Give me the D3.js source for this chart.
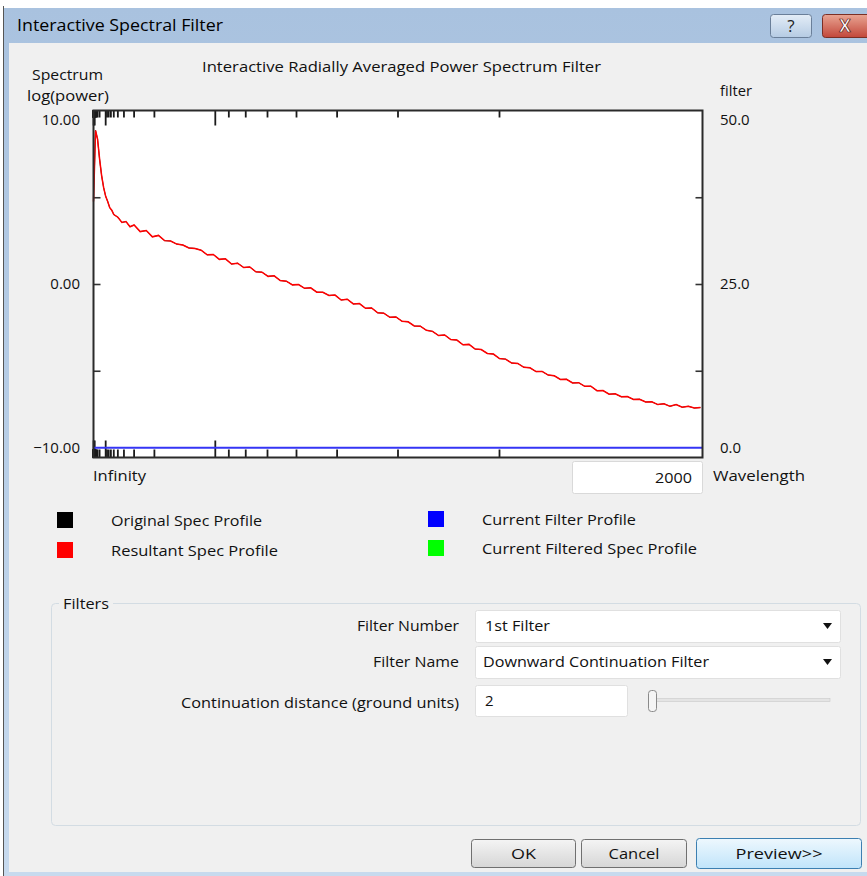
<!DOCTYPE html>
<html><head><meta charset="utf-8">
<script src="https://cdn.jsdelivr.net/npm/d3@7"></script>
<style>html,body{margin:0;padding:0;background:#fff;} svg{display:block;font-family:"Open Sans","Noto Sans",sans-serif;}</style>
</head><body><svg id="c" width="867" height="876"></svg>
<script>
// ---------------- DATA ----------------
const nyquistBin = 300;          // bin index at the right edge of the plot
const minWavelength = 2000;      // wavelength at the right edge
const bins = [0,1,2,3,4,5,6,7,8,9,10,12,14,16,18,20,23,26,29,32,35,38,41,44,47,50,53,56,59,62,65,68,71,74,77,80,83,86,89,92,95,98,101,104,107,110,113,116,119,122,125,128,131,134,137,140,143,146,149,152,155,158,161,164,167,170,173,176,179,182,185,188,191,194,197,200,203,206,209,212,215,218,221,224,227,230,233,236,239,242,245,248,251,254,257,260,263,266,269,272,275,278,281,284,287,290,293,296,299];
const logPower = [4.75,8.85,8.35,7.2,6.25,5.55,5.05,4.75,4.4,4.25,4.0,3.85,3.55,3.6,3.3,3.4,3.02,3.08,2.72,2.8,2.5,2.48,2.3,2.25,2.08,2.05,1.95,1.68,1.7,1.42,1.45,1.15,1.2,0.95,0.98,0.7,0.68,0.44,0.47,0.2,0.16,-0.05,-0.03,-0.25,-0.22,-0.47,-0.48,-0.66,-0.64,-0.92,-0.88,-1.15,-1.13,-1.4,-1.38,-1.66,-1.68,-1.92,-1.9,-2.15,-2.18,-2.42,-2.43,-2.67,-2.73,-2.97,-2.94,-3.2,-3.23,-3.5,-3.48,-3.75,-3.78,-4.0,-4.04,-4.3,-4.33,-4.56,-4.58,-4.8,-4.83,-5.05,-5.04,-5.25,-5.29,-5.5,-5.49,-5.7,-5.69,-5.9,-5.89,-6.15,-6.14,-6.35,-6.33,-6.5,-6.49,-6.65,-6.64,-6.8,-6.79,-6.95,-6.9,-7.05,-6.95,-7.1,-7.05,-7.15,-7.12];
const filterBins = [0,100,200,300];
const filterValues = [1.4,1.4,1.4,1.4];
const tickDecades = [1000,10000,100000,1000000,10000000];
const tickMantissas = [1,2,3,4,5,6,7,8,9];
const leftTickValues = [-5,0,5];
const leftLabels = [10,0,-10];
const rightLabels = [50,25,0];
const legendItems = [
  {name:"Original Spec Profile", color:"#000000"},
  {name:"Resultant Spec Profile", color:"#ff0000"},
  {name:"Current Filter Profile", color:"#0000ff"},
  {name:"Current Filtered Spec Profile", color:"#00ff00"}
];

// ---------------- LAYOUT ----------------
const svg = d3.select("#c");
const P = {left:93.5, right:702.5, top:110.5, bottom:457.5};
const x = d3.scaleLinear().domain([0, 1/minWavelength]).range([P.left, P.right]);
const binToK = b => b / nyquistBin / minWavelength;
const y = d3.scaleLinear().domain([-10,10]).range([P.bottom, P.top]);
const yF = d3.scaleLinear().domain([0,50]).range([P.bottom, P.top]);

function txt(g, s, tx, ty, o) {
  o = o || {};
  const t = g.append("text").attr("x", tx).attr("y", ty)
    .attr("font-size", o.size || 15).attr("fill", o.fill || "#111")
    .attr("text-anchor", o.anchor || "start").attr("dy", "0.35em").text(s);
  if (o.w) t.attr("textLength", o.w).attr("lengthAdjust", "spacingAndGlyphs");
  if (o.weight) t.attr("font-weight", o.weight);
  return t;
}

const defs = svg.append("defs");
function grad(id, c1, c2) {
  const g = defs.append("linearGradient").attr("id", id).attr("x1",0).attr("y1",0).attr("x2",0).attr("y2",1);
  g.append("stop").attr("offset","0%").attr("stop-color",c1);
  g.append("stop").attr("offset","100%").attr("stop-color",c2);
}
grad("gTitle", "#a9c2df", "#c7daee");
grad("gHelp", "#e4edf7", "#b5cbe3");
grad("gClose", "#e9a593", "#c2473a");
grad("gBtn", "#f4f4f4", "#d6d6d6");
grad("gPrev", "#eef8fe", "#c0e4fa");

// window chrome
svg.append("rect").attr("x",0).attr("y",0).attr("width",867).attr("height",876).attr("fill","#ffffff");
svg.append("rect").attr("x",3).attr("y",8).attr("width",864).attr("height",868).attr("fill","url(#gTitle)");
svg.append("rect").attr("x",9).attr("y",43).attr("width",858).attr("height",829).attr("fill","#f0f0f0");
svg.append("line").attr("x1",3.5).attr("x2",3.5).attr("y1",6).attr("y2",876).attr("stroke","#555").attr("stroke-width",1);
txt(svg, "Interactive Spectral Filter", 17, 25, {size:16, w:206, fill:"#000"});
svg.append("rect").attr("x",770.5).attr("y",14.5).attr("width",41).attr("height",23).attr("rx",3)
  .attr("fill","url(#gHelp)").attr("stroke","#6a7f99");
txt(svg, "?", 791, 26, {size:17, anchor:"middle", fill:"#222"});
svg.append("rect").attr("x",822.5).attr("y",14.5).attr("width",48).attr("height",23).attr("rx",3)
  .attr("fill","url(#gClose)").attr("stroke","#7b2f25");
txt(svg, "X", 845, 26, {size:17, anchor:"middle", fill:"#fff", weight:"bold"}).attr("stroke","#5a1a12").attr("stroke-width",0.7);

// ---------------- CHART ----------------
txt(svg, "Interactive Radially Averaged Power Spectrum Filter", 401.5, 67, {anchor:"middle", w:399});
txt(svg, "Spectrum", 67.5, 75, {anchor:"middle", w:71});
txt(svg, "log(power)", 68, 96, {anchor:"middle", w:82});
txt(svg, "filter", 720, 91, {w:32});

svg.append("rect").attr("x",P.left).attr("y",P.top).attr("width",P.right-P.left).attr("height",P.bottom-P.top).attr("fill","#fff");

// wavelength ticks (top and bottom)
const wl = [];
tickDecades.forEach(d => tickMantissas.forEach(m => { const v = m*d; if (v > minWavelength) wl.push({v, major: m===1}); }));
const tg = svg.append("g").attr("stroke","#1a1a1a").attr("stroke-width",1.8);
tg.selectAll("line.t").data(wl).join("line").attr("class","t")
  .attr("x1", d => x(1/d.v)).attr("x2", d => x(1/d.v))
  .attr("y1", P.top).attr("y2", d => P.top + (d.major ? 15 : 7));
tg.selectAll("line.b").data(wl).join("line").attr("class","b")
  .attr("x1", d => x(1/d.v)).attr("x2", d => x(1/d.v))
  .attr("y1", P.bottom).attr("y2", d => P.bottom - (d.major ? 17 : 8));

// y ticks via d3 axes
svg.append("g").attr("transform",`translate(${P.left},0)`)
  .call(d3.axisRight(y).tickValues(leftTickValues).tickSize(7).tickFormat(""))
  .call(g => g.select(".domain").remove())
  .call(g => g.selectAll("line").attr("stroke","#333").attr("stroke-width",1.6));
svg.append("g").attr("transform",`translate(${P.right},0)`)
  .call(d3.axisLeft(y).tickValues(leftTickValues).tickSize(7).tickFormat(""))
  .call(g => g.select(".domain").remove())
  .call(g => g.selectAll("line").attr("stroke","#333").attr("stroke-width",1.6));

// labels
leftLabels.forEach(v => {
  const yy = v === 10 ? y(v) + 9 : (v === -10 ? y(v) - 10 : y(v));
  txt(svg, d3.format(".2f")(v), 80, yy, {anchor:"end"});
});
rightLabels.forEach(v => {
  const yy = v === 50 ? yF(v) + 9 : (v === 0 ? yF(v) - 10 : yF(v));
  txt(svg, d3.format(".1f")(v), 720, yy, {});
});

// series
const line = d3.line().x(d => x(binToK(d[0]))).y(d => y(d[1]));
const spec = bins.map((b,i) => [b, logPower[i]]);
svg.append("path").datum(spec).attr("d", line).attr("fill","none").attr("stroke","#000").attr("stroke-width",0.8);
svg.append("path").datum(spec).attr("d", line).attr("fill","none").attr("stroke","#ff0000").attr("stroke-width",1.5);
const fLine = d3.line().x(d => x(binToK(d[0]))).y(d => yF(d[1]));
svg.append("path").datum(filterBins.map((b,i)=>[b, filterValues[i]])).attr("d", fLine)
  .attr("fill","none").attr("stroke","#3535f5").attr("stroke-width",2);

// frame
svg.append("rect").attr("x",P.left).attr("y",P.top).attr("width",P.right-P.left).attr("height",P.bottom-P.top)
  .attr("fill","none").attr("stroke","#2a2a2a").attr("stroke-width",2);

txt(svg, "Infinity", 93, 476, {w:53});
svg.append("rect").attr("x",572.5).attr("y",461.5).attr("width",130).attr("height",32).attr("rx",2)
  .attr("fill","#fff").attr("stroke","#d9d9d9");
txt(svg, String(minWavelength), 692, 478, {anchor:"end", w:37});
txt(svg, "Wavelength", 713, 476, {w:92});

// legend
const legPos = [[57,520],[57,550],[428,519],[428,548]];
const legW = [151,167,154,215];
legendItems.forEach((d,i) => {
  const [lx, ly] = legPos[i];
  svg.append("rect").attr("x",lx).attr("y",ly-8).attr("width",16).attr("height",16).attr("fill",d.color);
  txt(svg, d.name, i < 2 ? 111 : 482, ly+1, {w:legW[i]});
});

// ---------------- FILTERS PANEL ----------------
svg.append("rect").attr("x",51.5).attr("y",603.5).attr("width",809).attr("height",222).attr("rx",4)
  .attr("fill","none").attr("stroke","#d3dce3");
svg.append("rect").attr("x",59).attr("y",596).attr("width",54).attr("height",16).attr("fill","#f0f0f0");
txt(svg, "Filters", 63, 604, {w:46});

txt(svg, "Filter Number", 459, 626, {anchor:"end", w:102});
txt(svg, "Filter Name", 459, 662, {anchor:"end", w:86});
txt(svg, "Continuation distance (ground units)", 459, 703, {anchor:"end", w:278});

[[610,"1st Filter",65],[646,"Downward Continuation Filter",226]].forEach(([ty, s, w]) => {
  svg.append("rect").attr("x",475.5).attr("y",ty+0.5).attr("width",365).attr("height",32).attr("rx",2)
    .attr("fill","#fff").attr("stroke","#e0e0e0");
  txt(svg, s, s === "1st Filter" ? 485 : 483, ty+16, {w:w});
  svg.append("path").attr("d", `M${823},${ty+13} l9,0 l-4.5,6 z`).attr("fill","#111");
});
svg.append("rect").attr("x",475.5).attr("y",685.5).attr("width",152).attr("height",31).attr("rx",2)
  .attr("fill","#fff").attr("stroke","#e0e0e0");
txt(svg, "2", 485, 701, {});
svg.append("rect").attr("x",650).attr("y",698.5).attr("width",180).attr("height",3).attr("fill","#e4e4e4").attr("stroke","#c8c8c8").attr("stroke-width",0.6);
svg.append("rect").attr("x",648.5).attr("y",690.5).attr("width",8).attr("height",21).attr("rx",3)
  .attr("fill","#f5f5f5").attr("stroke","#8a8a8a");

// buttons
[[471.5,839.5,104,28,"OK",25,"gBtn","#707070"],[581.5,839.5,105,28,"Cancel",51,"gBtn","#707070"],[696.5,838.5,165,30,"Preview>>",87,"gPrev","#3c7fb1"]]
.forEach(([bx,by,bw,bh,s,w,f,st]) => {
  svg.append("rect").attr("x",bx).attr("y",by).attr("width",bw).attr("height",bh).attr("rx",3)
    .attr("fill",`url(#${f})`).attr("stroke",st);
  txt(svg, s, bx+bw/2, by+bh/2, {anchor:"middle", w:w});
});
svg.append("rect").attr("x",9).attr("y",872).attr("width",858).attr("height",4).attr("fill","#c7daee");
</script></body></html>
